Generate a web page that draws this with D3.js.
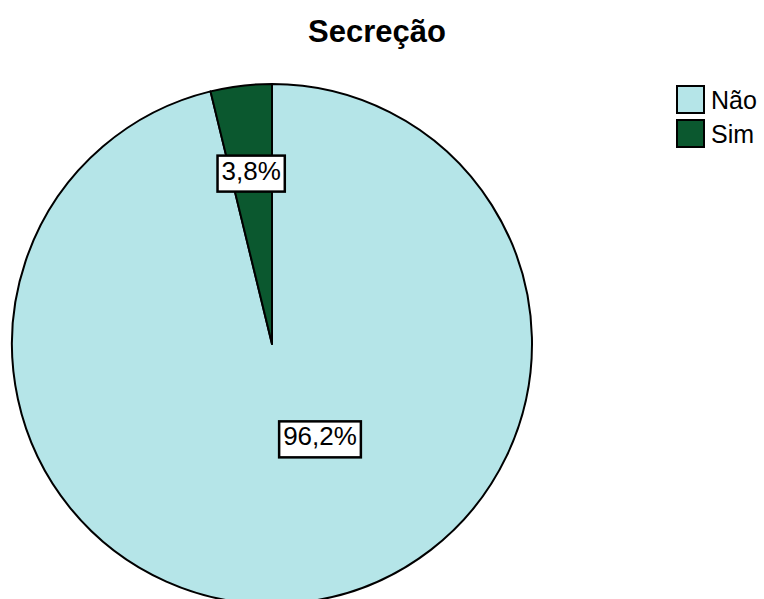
<!DOCTYPE html>
<html><head><meta charset="utf-8">
<script src="https://cdn.jsdelivr.net/npm/d3@7"></script>
<style>body{margin:0;background:#fff}svg{display:block}</style>
</head><body>
<svg id="c" width="764" height="599"></svg>
<script>
const title = "Secreção";
const categories = ["Não", "Sim"];
const values = [96.2, 3.8];
const labels = ["96,2%", "3,8%"];
const colors = ["#b5e5e8", "#0b582f"];

const svg = d3.select("#c");
const font = "'Liberation Sans', Arial, Helvetica, sans-serif";
const cx = 272, cy = 344, r = 260;

svg.append("text").attr("x", 377).attr("y", 42).attr("text-anchor", "middle")
  .attr("font-family", font).attr("font-weight", "bold").attr("font-size", 31)
  .text(title);

const pie = d3.pie().sort(null).value(d => d.v);
const data = categories.map((c, i) => ({c, v: values[i], l: labels[i], col: colors[i]}));
const arcs = pie(data);
const arc = d3.arc().innerRadius(0).outerRadius(r);

const g = svg.append("g").attr("transform", `translate(${cx},${cy})`);
g.selectAll("path").data(arcs).enter().append("path")
  .attr("d", arc).attr("fill", d => d.data.col)
  .attr("stroke", "#000").attr("stroke-width", 2).attr("stroke-linejoin", "round");

const labelPos = [
  d => [48, 92],
  d => { const a = (d.startAngle + d.endAngle) / 2; return [Math.sin(a) * 175, -Math.cos(a) * 175]; }
];
arcs.forEach((d, i) => {
  const [x, y] = labelPos[i](d);
  const lg = g.append("g").attr("transform", `translate(${x},${y})`);
  const t = lg.append("text").attr("text-anchor", "middle").attr("dy", "0.36em")
    .attr("font-family", font).attr("font-size", 26).text(d.data.l);
  const bb = t.node().getBBox();
  lg.insert("rect", "text").attr("x", bb.x - 4).attr("y", bb.y)
    .attr("width", bb.width + 8).attr("height", bb.height + 6)
    .attr("fill", "#fff").attr("stroke", "#000").attr("stroke-width", 2.5);
});

const leg = svg.append("g").attr("transform", "translate(677,86)");
data.forEach((d, i) => {
  const row = leg.append("g").attr("transform", `translate(0,${i * 34})`);
  row.append("rect").attr("width", 27).attr("height", 27)
    .attr("fill", d.col).attr("stroke", "#000").attr("stroke-width", 2);
  row.append("text").attr("x", 34).attr("y", 14).attr("dy", "0.36em")
    .attr("font-family", font).attr("font-size", 25).text(d.c);
});
</script>
</body></html>
